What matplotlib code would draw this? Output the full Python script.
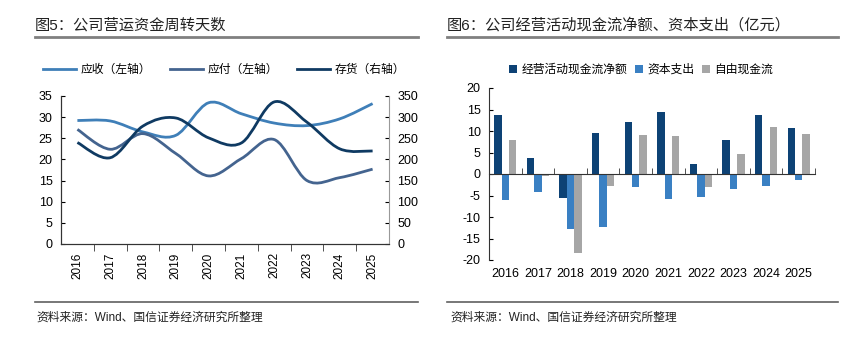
import numpy as np
import matplotlib.pyplot as plt
from matplotlib.path import Path
from matplotlib.patches import PathPatch
from matplotlib.lines import Line2D

plt.rcParams['font.family'] = ['Liberation Sans', 'Noto Sans CJK SC', 'DejaVu Sans']
plt.rcParams['axes.unicode_minus'] = False

# 数据
years = ["2016", "2017", "2018", "2019", "2020", "2021", "2022", "2023", "2024", "2025"]

receivable_days = [29.2, 29.1, 26.5, 25.7, 33.4, 30.8, 28.6, 28.0, 29.6, 33.2]
payable_days = [27.1, 22.4, 26.1, 21.4, 16.1, 20.2, 24.7, 15.0, 15.7, 17.7]
inventory_days = [240, 204, 279, 298, 251, 239, 336, 288, 225, 220]

op_cash_flow = [13.8, 3.7, -5.6, 9.5, 12.2, 14.5, 2.4, 8.0, 13.8, 10.8]
capex = [-6.0, -4.2, -12.7, -12.3, -3.1, -5.7, -5.4, -3.5, -2.9, -1.5]
free_cash_flow = [7.9, -0.5, -18.4, -2.7, 9.1, 8.9, -3.0, 4.65, 11.0, 9.4]

c_recv = "#3f7fb8"
c_pay = "#44648f"
c_inv = "#0f3a62"
c_op = "#0d4275"
c_capex = "#3a80c3"
c_fcf = "#a6a6a6"


def smooth_path(xs, ys):
    # Catmull-Rom 曲线转成三次贝塞尔
    xs = np.asarray(xs, float)
    ys = np.asarray(ys, float)
    pts = np.column_stack([xs, ys])
    verts = [pts[0]]
    codes = [Path.MOVETO]
    n = len(pts)
    for i in range(n - 1):
        p0 = pts[i - 1] if i > 0 else pts[i]
        p1 = pts[i]
        p2 = pts[i + 1]
        p3 = pts[i + 2] if i + 2 < n else pts[i + 1]
        c1 = p1 + (p2 - p0) / 6
        c2 = p2 - (p3 - p1) / 6
        verts += [c1, c2, p2]
        codes += [Path.CURVE4] * 3
    return Path(verts, codes)


fig = plt.figure(figsize=(8.6, 3.4), dpi=100)
W, H = 860, 340


def fx(px):
    return px / W


def fy(py):
    return (H - py) / H


# 标题和分隔线
fig.text(fx(35), fy(25), "图5：公司营运资金周转天数", fontsize=11, va="center", ha="left", color="#222222")
fig.text(fx(447), fy(25), "图6：公司经营活动现金流净额、资本支出（亿元）", fontsize=11, va="center", ha="left", color="#222222")
for x0, x1 in [(35, 418), (447, 838)]:
    fig.add_artist(Line2D([fx(x0), fx(x1)], [fy(37), fy(37)], color="#808080", lw=2))
    fig.add_artist(Line2D([fx(x0), fx(x1)], [fy(302), fy(302)], color="#606060", lw=1.2))
fig.text(fx(36), fy(318), "资料来源：Wind、国信证券经济研究所整理", fontsize=8.5, va="center", ha="left", color="#222222")
fig.text(fx(450), fy(318), "资料来源：Wind、国信证券经济研究所整理", fontsize=8.5, va="center", ha="left", color="#222222")

# 图5：周转天数
x = np.arange(len(years))
ax1 = fig.add_axes([fx(61), fy(244), fx(389) - fx(61), fy(96) - fy(244)])
ax2 = ax1.twinx()

ax1.add_patch(PathPatch(smooth_path(x, receivable_days), fill=False, edgecolor=c_recv, lw=2))
ax1.add_patch(PathPatch(smooth_path(x, payable_days), fill=False, edgecolor=c_pay, lw=2))
ax2.add_patch(PathPatch(smooth_path(x, inventory_days), fill=False, edgecolor=c_inv, lw=2))

ax1.set_xlim(-0.5, len(years) - 0.5)
ax1.set_ylim(0, 35)
ax2.set_ylim(0, 350)
ax1.set_yticks(np.arange(0, 36, 5))
ax2.set_yticks(np.arange(0, 351, 50))
ax1.set_xticks(x)
ax1.set_xticklabels(years, rotation=90)
ax1.set_xticks(np.arange(0.5, len(years) - 1, 1), minor=True)
ax1.tick_params(axis="x", which="major", length=0, pad=6, labelsize=8.5)
ax1.tick_params(axis="x", which="minor", length=5, direction="out", color="#333333")
ax1.tick_params(axis="y", length=3, direction="in", labelsize=9, pad=6)
ax2.tick_params(axis="y", length=3, direction="in", labelsize=9, pad=6)
for ax in (ax1, ax2):
    ax.spines["top"].set_visible(False)
    ax.spines["bottom"].set_color("#333333")
    ax.spines["left"].set_color("#333333")
ax2.spines["right"].set_color("#999999")
ax1.spines["right"].set_visible(False)

handles = [Line2D([], [], color=c_recv, lw=2), Line2D([], [], color=c_pay, lw=2), Line2D([], [], color=c_inv, lw=2)]
fig.legend(handles, ["应收（左轴）", "应付（左轴）", "存货（右轴）"], loc="center",
           bbox_to_anchor=(fx(224), fy(70)), ncol=3, frameon=False, fontsize=8.5,
           handlelength=2.8, columnspacing=1.6, handletextpad=0.4)

# 图6：现金流柱状图
ax3 = fig.add_axes([fx(489), fy(260), fx(815) - fx(489), fy(88) - fy(260)])
bw = 0.225
ax3.bar(x - bw, op_cash_flow, bw, color=c_op, label="经营活动现金流净额")
ax3.bar(x, capex, bw, color=c_capex, label="资本支出")
ax3.bar(x + bw, free_cash_flow, bw, color=c_fcf, label="自由现金流")
ax3.set_xlim(-0.5, len(years) - 0.5)
ax3.set_ylim(-20, 20)
ax3.set_yticks(np.arange(-20, 21, 5))
ax3.spines["top"].set_visible(False)
ax3.spines["right"].set_visible(False)
ax3.spines["left"].set_color("#333333")
ax3.spines["bottom"].set_position(("data", 0))
ax3.spines["bottom"].set_color("#333333")
ax3.set_xticks(x)
ax3.set_xticklabels(years)
ax3.set_xticks(np.arange(0.5, len(years), 1), minor=True)
ax3.tick_params(axis="x", which="major", length=0, pad=68, labelsize=9)
ax3.tick_params(axis="x", which="minor", length=4, direction="in", color="#333333")
ax3.tick_params(axis="y", length=3, direction="in", labelsize=9, pad=6)
ax3.legend(loc="center", bbox_to_anchor=(fx(641), fy(70)), bbox_transform=fig.transFigure,
           ncol=3, frameon=False, fontsize=8.5, handlelength=0.7, handleheight=0.7,
           columnspacing=0.6, handletextpad=0.4)

fig.savefig("out.png", dpi=100)
